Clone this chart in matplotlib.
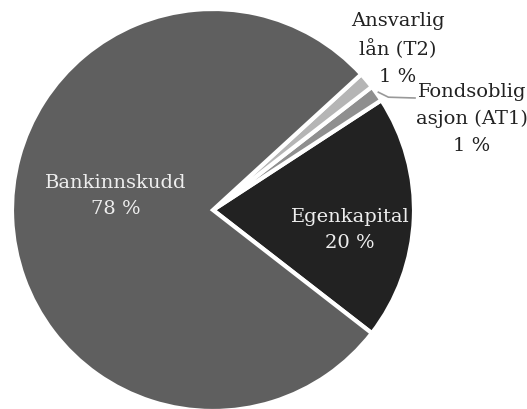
import numpy as np
import matplotlib.pyplot as plt

# slice data, counter-clockwise from the lower edge of Egenkapital
labels = ["Egenkapital", "Fondsoblig\nasjon (AT1)", "Ansvarlig\nlån (T2)", "Bankinnskudd"]
values = [19.7, 1.3, 1.3, 77.7]
pct_text = ["20 %", "1 %", "1 %", "78 %"]
colors = ["#222222", "#8f8f8f", "#b5b5b5", "#5f5f5f"]

W, H = 527, 410
cx, cy, R = 213, 211, 201

fig = plt.figure(figsize=(W / 100, H / 100), dpi=100)
ax = fig.add_axes([0, 0, 1, 1])

wedges, _ = ax.pie(values, colors=colors, startangle=-37.8, counterclock=True,
                   radius=1.0, center=(0, 0),
                   wedgeprops=dict(edgecolor="white", linewidth=3))
ax.set_xlim(-cx / R, (W - cx) / R)
ax.set_ylim(-(H - cy) / R, cy / R)
ax.set_aspect("equal")
ax.axis("off")

fs = 14


def px(x, y):
    return (x - cx) / R, (cy - y) / R


# labels: inside for the big slices, outside for the small ones
for i, pos, col in [(0, (350, 230), "#eeeeee"), (3, (116, 196), "#eeeeee"),
                    (2, (398, 49), "#222222"), (1, (472, 119), "#222222")]:
    x, y = px(*pos)
    ax.text(x, y, labels[i] + "\n" + pct_text[i], ha="center", va="center",
            color=col, fontsize=fs, family="DejaVu Serif", linespacing=1.6)

# leader line for the AT1 slice
w = wedges[1]
mid = np.deg2rad((w.theta1 + w.theta2) / 2)
x0, y0 = np.cos(mid) * 1.01, np.sin(mid) * 1.01
x1, y1 = px(415, 99)
ax.plot([x0, x0 + 0.05, x1], [y0, y1 + 0.004, y1], color="#999999", lw=1.2)

fig.savefig("out.png", dpi=100)
